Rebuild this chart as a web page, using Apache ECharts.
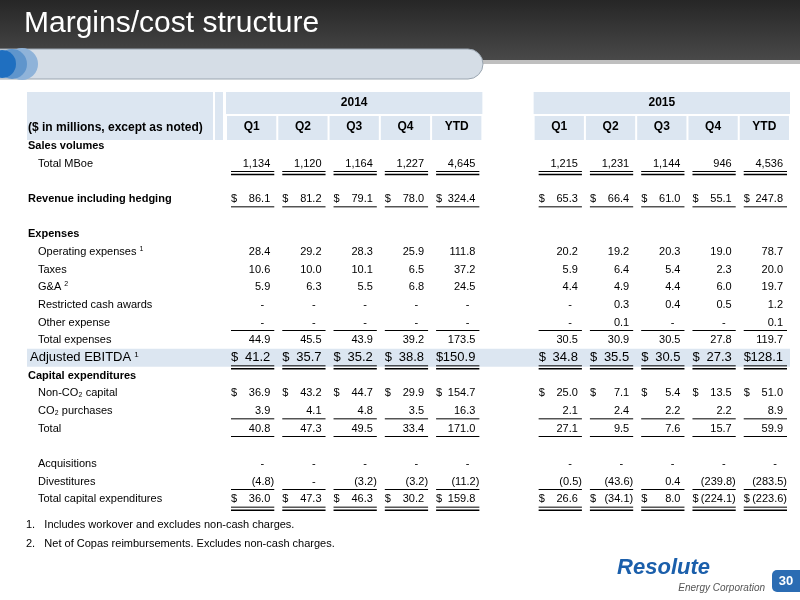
<!DOCTYPE html>
<html><head><meta charset="utf-8">
<script src="https://cdn.jsdelivr.net/npm/echarts@6/dist/echarts.min.js"></script>
<style>html,body{margin:0;padding:0;background:#fff}#c{width:800px;height:600px}</style>
</head><body><div id="c"></div>
<script>
const columns = ['Q1','Q2','Q3','Q4','YTD','','Q1','Q2','Q3','Q4','YTD'];
const years = ['2014','2015'];
const rowLabels = ['Sales volumes','Total MBoe','','Revenue including hedging','','Expenses','Operating expenses','Taxes','G&A','Restricted cash awards','Other expense','Total expenses','Adjusted EBITDA','Capital expenditures','Non-CO₂ capital','CO₂ purchases','Total','','Acquisitions','Divestitures','Total capital expenditures'];
const mboe       = [1134,1120,1164,1227,4645, 1215,1231,1144,946,4536];
const revenue    = [86.1,81.2,79.1,78.0,324.4, 65.3,66.4,61.0,55.1,247.8];
const opex       = [28.4,29.2,28.3,25.9,111.8, 20.2,19.2,20.3,19.0,78.7];
const taxes      = [10.6,10.0,10.1,6.5,37.2, 5.9,6.4,5.4,2.3,20.0];
const ga         = [5.9,6.3,5.5,6.8,24.5, 4.4,4.9,4.4,6.0,19.7];
const restricted = [null,null,null,null,null, null,0.3,0.4,0.5,1.2];
const other      = [null,null,null,null,null, null,0.1,null,null,0.1];
const totalExp   = [44.9,45.5,43.9,39.2,173.5, 30.5,30.9,30.5,27.8,119.7];
const ebitda     = [41.2,35.7,35.2,38.8,150.9, 34.8,35.5,30.5,27.3,128.1];
const nonCo2     = [36.9,43.2,44.7,29.9,154.7, 25.0,7.1,5.4,13.5,51.0];
const co2        = [3.9,4.1,4.8,3.5,16.3, 2.1,2.4,2.2,2.2,8.9];
const totalCap   = [40.8,47.3,49.5,33.4,171.0, 27.1,9.5,7.6,15.7,59.9];
const acquisitions=[null,null,null,null,null, null,null,null,null,null];
const divest     = [-4.8,null,-3.2,-3.2,-11.2, -0.5,-43.6,0.4,-239.8,-283.5];
const totalCapEx = [36.0,47.3,46.3,30.2,159.8, 26.6,-34.1,8.0,-224.1,-223.6];

const rows = [
  [1,mboe,'int',false,'uu'],[3,revenue,'dec',true,'u'],[6,opex,'dec',false,''],[7,taxes,'dec',false,''],
  [8,ga,'dec',false,''],[9,restricted,'dec',false,''],[10,other,'dec',false,'u'],[11,totalExp,'dec',false,''],
  [12,ebitda,'dec',true,'uu'],[14,nonCo2,'dec',true,''],[15,co2,'dec',false,'u'],[16,totalCap,'dec',false,'u'],
  [18,acquisitions,'dec',false,''],[19,divest,'dec',false,'u'],[20,totalCapEx,'dec',true,'uu']
];
function fmt(v,f){
  if(v==null) return '-';
  let s = f==='int' ? Math.abs(v).toLocaleString('en-US') : Math.abs(v).toFixed(1);
  return v<0 ? '('+s+')' : s;
}
const cells=[];
rows.forEach(r=>{
  r[1].forEach((v,i)=>{
    const col = i<5 ? i : i+1;
    cells.push({value:[col,r[0]], text:fmt(v,r[2]), dash:v==null, neg:v!=null&&v<0, dollar:r[3], ul:r[4], big:r[0]===12});
  });
});
const FONT='Liberation Sans, Arial, sans-serif';
const bold = new Set([0,3,5,13]);
const sup = {6:'1',8:'2',12:'1'};
const chart = echarts.init(document.getElementById('c'));
chart.setOption({
  animation:false,
  grid:{left:226,right:10,top:137,bottom:92},
  xAxis:{type:'category',data:columns,position:'top',axisLine:{show:false},axisTick:{show:false},
    axisLabel:{margin:4,fontFamily:FONT,fontSize:12,fontWeight:'bold',color:'#000'}},
  yAxis:{type:'category',data:rowLabels,inverse:true,axisLine:{show:false},axisTick:{show:false},
    axisLabel:{interval:0,align:'left',margin:198,fontFamily:FONT,fontSize:11,color:'#000',
      formatter:(v,i)=>{
        if(!v) return '';
        if(i===12) return '{e|'+v+'} {se|'+sup[i]+'}';
        const s = sup[i] ? ' {s|'+sup[i]+'}' : '';
        return bold.has(i) ? '{b|'+v+'}' : '{n|'+v+'}'+s;
      },
      rich:{b:{fontFamily:FONT,fontSize:11,fontWeight:'bold',color:'#000'},
        n:{fontFamily:FONT,fontSize:11,color:'#000',padding:[0,0,0,10]},
        s:{fontFamily:FONT,fontSize:7,color:'#000',verticalAlign:'top',padding:[0,0,6,0]},
        se:{fontFamily:FONT,fontSize:8,color:'#000',verticalAlign:'top',padding:[0,0,6,0]},
        e:{fontFamily:FONT,fontSize:13,color:'#000',padding:[0,0,0,2]}}}},
  series:[{type:'custom',data:cells,z:5,
    renderItem:(params,api)=>{
      const c=cells[params.dataIndex];
      const p=api.coord([api.value(0),api.value(1)]);
      const bw=api.size([1,0])[0];
      const l=p[0]-bw/2+5, r=p[0]+bw/2-3;
      const fs=c.big?13:11;
      const kids=[];
      kids.push({type:'text',style:{text:c.text,x:c.dash?r-10:(c.neg?r:r-4),y:p[1],align:'right',verticalAlign:'middle',font:fs+'px '+FONT,fill:'#000'}});
      if(c.dollar) kids.push({type:'text',style:{text:'$',x:l,y:p[1],align:'left',verticalAlign:'middle',font:fs+'px '+FONT,fill:'#000'}});
      const yb=p[1]+8;
      if(c.ul==='u') kids.push({type:'line',shape:{x1:l,y1:yb,x2:r,y2:yb},style:{stroke:'#000',lineWidth:1}});
      if(c.ul==='uu'){
        kids.push({type:'line',shape:{x1:l,y1:yb,x2:r,y2:yb},style:{stroke:'#000',lineWidth:1}});
        kids.push({type:'line',shape:{x1:l,y1:yb+3,x2:r,y2:yb+3},style:{stroke:'#000',lineWidth:1.5}});
      }
      return {type:'group',children:kids};
    }}]
});
const px=(c,r)=>chart.convertToPixel({gridIndex:0},[c,r]);
const bw=px(1,0)[0]-px(0,0)[0];
const e0=px(0,12)[1];
const hdr=[];
const sx=px(0,0)[0]-bw/2, ex1=px(4,0)[0]+bw/2, sx2=px(6,0)[0]-bw/2, ex2=px(10,0)[0]+bw/2;
hdr.push({type:'rect',z:-1,shape:{x:27,y:92,width:186,height:48},style:{fill:'#dce6f1'}});
hdr.push({type:'rect',z:-1,shape:{x:215,y:92,width:sx-218,height:48},style:{fill:'#dce6f1'}});
[[sx,ex1,years[0]],[sx2,ex2,years[1]]].forEach(([a,b,t])=>{
  hdr.push({type:'rect',z:-1,shape:{x:a,y:92,width:b-a,height:22},style:{fill:'#dce6f1'}});
  for(let k=0;k<5;k++){
    hdr.push({type:'rect',z:-1,shape:{x:a+k*bw+1,y:116,width:bw-2,height:24},style:{fill:'#dce6f1'}});
  }
  hdr.push({type:'text',z:2,style:{text:t,x:(a+b)/2,y:103,align:'center',verticalAlign:'middle',font:'bold 12px '+FONT,fill:'#000'}});
});
hdr.push({type:'text',style:{text:'($ in millions, except as noted)',x:28,y:128,verticalAlign:'middle',font:'bold 12px '+FONT,fill:'#000'}});
hdr.push({type:'rect',z:-1,shape:{x:27,y:e0-9,width:ex2-27,height:18},style:{fill:'#dce6f1'}});
hdr.push({type:'rect',z:-2,shape:{x:0,y:0,width:800,height:62},style:{fill:new echarts.graphic.LinearGradient(0,0,0,1,[{offset:0,color:'#262626'},{offset:1,color:'#4a4a4a'}])}});
hdr.push({type:'rect',z:-2,shape:{x:0,y:60,width:800,height:4},style:{fill:'#bfbfbf'}});
hdr.push({type:'rect',z:-1,shape:{x:-20,y:49,width:503,height:30,r:15},style:{fill:'#d5dde6',stroke:'#9aa5b0',lineWidth:1}});
hdr.push({type:'circle',shape:{cx:22,cy:64,r:16},style:{fill:'#8fb3d9'}});
hdr.push({type:'circle',shape:{cx:12,cy:64,r:15},style:{fill:'#5f95cc'}});
hdr.push({type:'circle',shape:{cx:2,cy:64,r:14},style:{fill:'#1f6fc0'}});
hdr.push({type:'text',style:{text:'Margins/cost structure',x:24,y:24,verticalAlign:'middle',font:'30px "Liberation Sans Narrow", "Liberation Sans", sans-serif',fill:'#fff'}});
hdr.push({type:'text',style:{text:'1.   Includes workover and excludes non-cash charges.',x:26,y:525,verticalAlign:'middle',font:'11px '+FONT,fill:'#000'}});
hdr.push({type:'text',style:{text:'2.   Net of Copas reimbursements. Excludes non-cash charges.',x:26,y:544,verticalAlign:'middle',font:'11px '+FONT,fill:'#000'}});
hdr.push({type:'text',style:{text:'Resolute',x:710,y:568,align:'right',verticalAlign:'middle',font:'italic bold 22px '+FONT,fill:'#1b5fab'}});
hdr.push({type:'text',style:{text:'Energy Corporation',x:765,y:588,align:'right',verticalAlign:'middle',font:'italic 10px '+FONT,fill:'#555'}});
hdr.push({type:'rect',shape:{x:772,y:570,width:28,height:22,r:[5,0,0,5]},style:{fill:'#2b6cb3'}});
hdr.push({type:'text',style:{text:'30',x:786,y:581,align:'center',verticalAlign:'middle',font:'bold 13px '+FONT,fill:'#fff'}});
chart.setOption({graphic:hdr});
</script></body></html>
